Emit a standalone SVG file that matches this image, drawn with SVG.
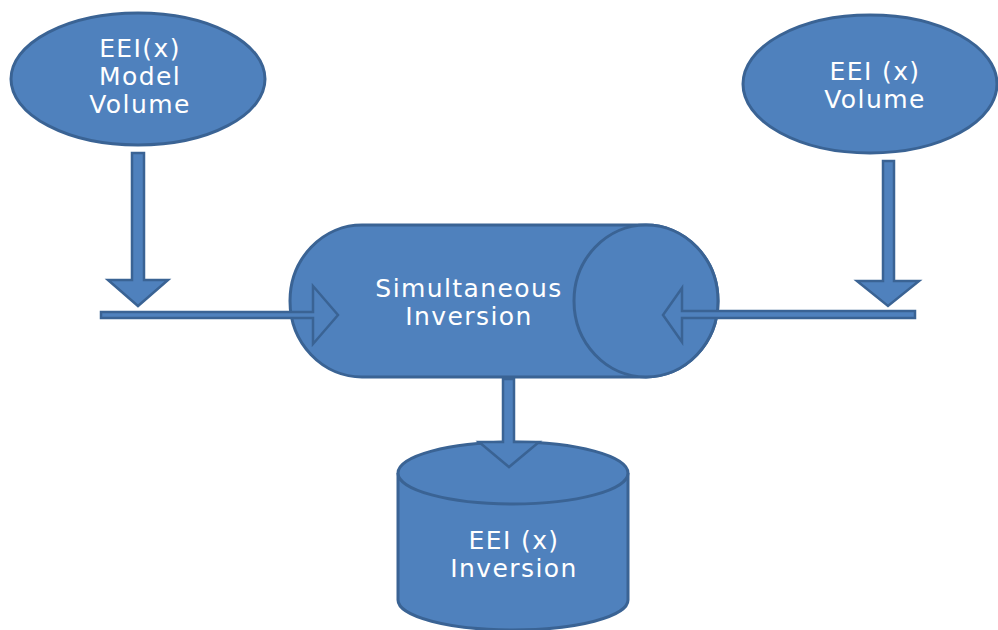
<svg xmlns="http://www.w3.org/2000/svg" width="998" height="630" viewBox="0 0 998 630">
<style>
.s{fill:#4f81bd;stroke:#3a6394;stroke-width:3;stroke-linejoin:round}
.a{fill:#4f81bd;stroke:#3a6394;stroke-width:2.5;stroke-linejoin:miter}
.t{font-family:"DejaVu Sans",Verdana,sans-serif;font-size:25px;letter-spacing:1.4px;fill:#ffffff;text-anchor:middle}
</style>
<rect width="998" height="630" fill="#ffffff"/>
<g id="node-model">
<ellipse class="s" cx="138" cy="79" rx="127" ry="66"/>
<text class="t" x="140" y="57">EEI(x)</text>
<text class="t" x="140" y="85">Model</text>
<text class="t" x="140" y="113">Volume</text>
</g>
<g id="node-volume">
<ellipse class="s" cx="870" cy="84" rx="127" ry="69"/>
<text class="t" x="875" y="80">EEI (x)</text>
<text class="t" x="875" y="108">Volume</text>
</g>
<g id="node-inversion-process">
<path class="s" d="M362,225 L646,225 A72,76 0 0 1 646,377 L362,377 A72,76 0 0 1 362,225 Z"/>
<ellipse class="s" cx="646" cy="301" rx="72" ry="76"/>
<text class="t" x="469" y="297">Simultaneous</text>
<text class="t" x="469" y="325">Inversion</text>
</g>
<g id="node-result">
<path class="s" d="M398,473 L398,600 A115,30 0 0 0 628,600 L628,473"/>
<ellipse class="s" cx="513" cy="473" rx="115" ry="31"/>
<text class="t" x="514" y="549">EEI (x)</text>
<text class="t" x="514" y="577">Inversion</text>
</g>
<g id="connectors">
<path class="a" d="M132,153 L144,153 L144,280 L168,280 L138,306 L108,280 L132,280 Z"/>
<path class="a" d="M883,161 L894,161 L894,281 L919,281 L888,306 L857,281 L883,281 Z"/>
<path class="a" d="M101,312 L313,312 L313,286 L338,315 L313,344 L313,318 L101,318 Z"/>
<path class="a" d="M915,311 L682,311 L682,288 L663,315 L682,342 L682,318 L915,318 Z"/>
<path class="a" d="M503,379 L514,379 L514,442 L539,442 L509,467 L479,442 L503,442 Z"/>
</g>
</svg>
